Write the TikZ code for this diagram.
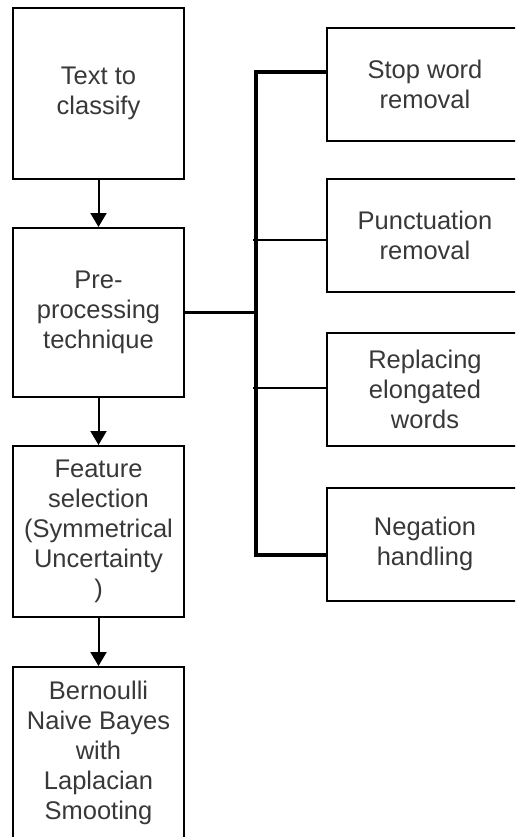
\documentclass[tikz,border=0pt]{standalone}
\usepackage{fontspec}
\setmainfont{Liberation Sans}
\usetikzlibrary{arrows.meta}
\definecolor{txt}{HTML}{383838}
\begin{document}
\begin{tikzpicture}[x=1pt,y=-1pt,
  box/.style={draw=black, line width=2pt, rectangle, inner sep=0pt, align=center, text=txt, font=\fontsize{25.5}{30}\selectfont},
  lbox/.style={box, minimum width=171pt, minimum height=171pt},
  rbox/.style={box, minimum width=196pt, minimum height=113pt},
  flow/.style={line width=2pt, -{Triangle[width=16pt,length=14pt]}},
  busthick/.style={line width=3.5pt},
  busthin/.style={line width=1.8pt}]
\useasboundingbox (0,0) rectangle (515,837);
\clip (0,0) rectangle (515,837);
% left column
\node[lbox] (t1) at (98.5,93.5) {Text to\\classify};
\node[lbox, minimum height=169pt] (t2) at (98.5,312.5) {Pre-\\processing\\technique};
\node[lbox] (t3) at (98.5,531.5) {Feature\\selection\\(Symmetrical\\Uncertainty\\)};
\node[lbox] (t4) at (98.5,752.5) {Bernoulli\\Naive Bayes\\with\\Laplacian\\Smooting};
% right column
\node[rbox] (r1) at (425,84.5) {Stop word\\removal};
\node[rbox] (r2) at (425,235.5) {Punctuation\\removal};
\node[rbox] (r3) at (425,389.5) {Replacing\\elongated\\words};
\node[rbox] (r4) at (425,544) {Negation\\handling};
% arrows
\draw[flow] (t1) -- (t2);
\draw[flow] (t2) -- (t3);
\draw[flow] (t3) -- (t4);
% bus
\coordinate (bt) at (256,72);
\coordinate (bb) at (256,555);
\coordinate (bm) at (256,312.5);
\coordinate (b2) at (253,240);
\coordinate (b3) at (253,388);
\draw[busthick] (t2.east) -- (bm);
\draw[busthick] (bt -| r1.west) -- (bt) -- (bb) -- (bb -| r4.west);
\draw[busthin] (b2) -- (b2 -| r2.west);
\draw[busthin] (b3) -- (b3 -| r3.west);
\end{tikzpicture}
\end{document}
